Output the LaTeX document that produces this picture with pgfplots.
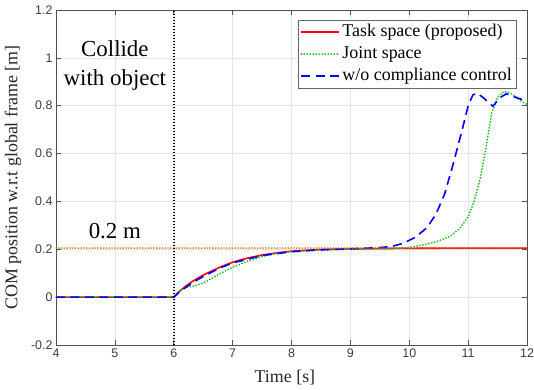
\documentclass[border=0pt]{standalone}
\usepackage{pgfplots}
\pgfplotsset{compat=1.18}
\usepackage{fontspec}
\setmainfont{Liberation Serif}
\newfontfamily\arialf{Liberation Sans}
\definecolor{mgreen}{RGB}{30,185,30}
\definecolor{morange}{RGB}{235,105,20}
\definecolor{axgray}{RGB}{38,38,38}
\begin{document}
\begin{tikzpicture}
\begin{axis}[
 scale only axis, width=471bp, height=335bp,
 at={(0,0)}, anchor=south west,
 xmin=4, xmax=12, ymin=-0.2, ymax=1.2,
 xtick={4,5,6,7,8,9,10,11,12},
 ytick={-0.2,0,0.2,0.4,0.6,0.8,1,1.2},
 xticklabels={4,5,6,7,8,9,10,11,12},
 yticklabels={-0.2,0,0.2,0.4,0.6,0.8,1,1.2},
 tick label style={font=\arialf\fontsize{12.5}{14}\selectfont, text=axgray!90},
 grid=major, major grid style={gray!20, line width=0.5bp},
 tick align=inside, major tick length=5bp,
 axis line style={axgray!80, line width=0.7bp},
 every tick/.style={axgray!80, line width=0.6bp},
 xlabel={Time [s]}, ylabel={COM position w.r.t global frame [m]},
 label style={font=\fontsize{18}{20}\selectfont, text=axgray},
 xlabel style={at={(axis description cs:0.486,-0.0955)}, anchor=center},
 ylabel style={at={(axis description cs:-0.0913,0.5)}, anchor=center},
 legend style={at={(axis description cs:0.977,0.970)}, anchor=north east,
   font=\fontsize{18}{20}\selectfont, draw=axgray!70, fill=white,
   inner xsep=2bp, inner ysep=1bp, row sep=0bp,
   nodes={inner sep=2.2bp, text height=13bp, text depth=4.5bp},
   /tikz/every even column/.append style={column sep=0bp}},
 legend cell align=left,
 legend image code/.code={\draw[#1] (0bp,0bp) -- (38bp,0bp);},
]
\addplot[red, line width=1.6bp] coordinates {
(4,0) (6,0) (6.1,0.025) (6.2,0.045) (6.3,0.063) (6.4,0.078) (6.5,0.092) (6.6,0.104) (6.8,0.127) (7.0,0.146) (7.25,0.163) (7.5,0.176) (7.75,0.185) (8.0,0.192) (8.5,0.199) (9,0.202) (10,0.204) (11,0.205) (12,0.205)};
\addlegendentry{Task space (proposed)}
\addplot[mgreen, line width=2bp, dash pattern=on 0bp off 3bp, line cap=round] coordinates {
(4,0) (6,0) (6.1,0.028) (6.2,0.04) (6.3,0.045) (6.4,0.05) (6.5,0.06) (6.6,0.072) (6.8,0.1) (7,0.125) (7.25,0.15) (7.5,0.17) (7.75,0.183) (8,0.19) (8.5,0.197) (9,0.2) (9.5,0.202) (10,0.207) (10.3,0.222) (10.5,0.235) (10.7,0.255) (10.85,0.285) (11,0.335) (11.1,0.4) (11.2,0.49) (11.3,0.62) (11.4,0.77) (11.5,0.835) (11.6,0.858) (11.7,0.855) (11.8,0.84) (11.9,0.82) (12,0.805)};
\addlegendentry{Joint space}
\addplot[blue, line width=1.6bp, dash pattern=on 9bp off 5.5bp] coordinates {
(4,0) (6,0) (6.1,0.022) (6.2,0.04) (6.3,0.057) (6.4,0.072) (6.5,0.086) (6.6,0.099) (6.8,0.123) (7,0.143) (7.5,0.174) (8,0.19) (8.5,0.198) (9,0.202) (9.5,0.207) (9.7,0.212) (9.9,0.225) (10.1,0.25) (10.3,0.29) (10.45,0.345) (10.6,0.43) (10.75,0.56) (10.9,0.7) (11,0.8) (11.08,0.845) (11.15,0.853) (11.25,0.835) (11.42,0.798) (11.55,0.835) (11.65,0.85) (11.8,0.835) (12,0.82)};
\addlegendentry{w/o compliance control}
\addplot[morange, line width=1.8bp, dash pattern=on 0bp off 2.8bp, line cap=round, forget plot] coordinates {(4,0.205) (12,0.205)};
\addplot[black, line width=1.8bp, dash pattern=on 1.5bp off 1.5bp, forget plot] coordinates {(6,-0.2) (6,1.2)};
\node[font=\fontsize{23}{26}\selectfont, anchor=base] at (axis cs:5,1.005) {Collide};
\node[font=\fontsize{23}{26}\selectfont, anchor=base] at (axis cs:5,0.886) {with object};
\node[font=\fontsize{23}{26}\selectfont, anchor=base] at (axis cs:5,0.247) {0.2 m};
\end{axis}
\pgfresetboundingbox
\path[use as bounding box] (-56bp,-45bp) rectangle (478bp,345bp);
\end{tikzpicture}
\end{document}
